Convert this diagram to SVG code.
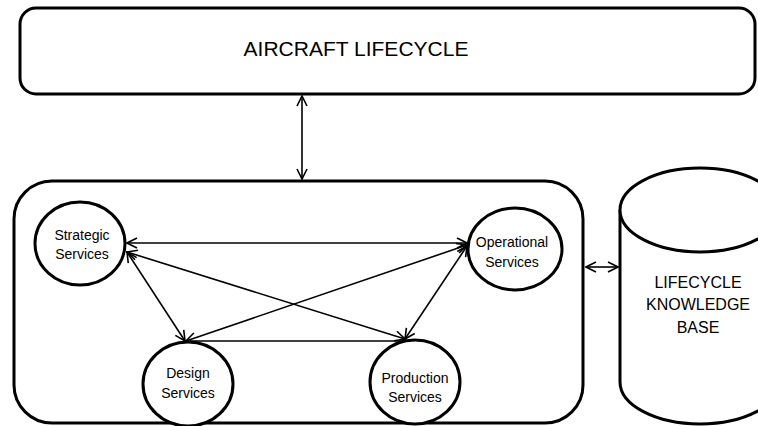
<svg xmlns="http://www.w3.org/2000/svg" width="758" height="426" viewBox="0 0 758 426">
  <style>
    .box { fill: #fff; stroke: #000; stroke-width: 3; }
    .svc { fill: #fff; stroke: #000; stroke-width: 3; }
    .lbl { font-family: "Liberation Sans", Arial, sans-serif; font-size: 14px; fill: #000; text-anchor: middle; }
    .big { font-family: "Liberation Sans", Arial, sans-serif; font-size: 16px; fill: #000; text-anchor: middle; }
    .link { fill: none; stroke: #000; stroke-width: 1.6; }
    .both { marker-start: url(#head); marker-end: url(#head); }
  </style>
  <defs>
    <marker id="head" viewBox="0 0 12 12" refX="11" refY="6" markerWidth="12" markerHeight="12" markerUnits="userSpaceOnUse" orient="auto-start-reverse">
      <path d="M1,1 L11,6 L1,11" fill="none" stroke="#000" stroke-width="1.6"/>
    </marker>
  </defs>

  <!-- top-level lifecycle box -->
  <g id="aircraft-lifecycle">
    <rect class="box" x="20" y="8" width="735" height="86" rx="16"/>
    <text class="big" x="356" y="56" style="font-size:21px">AIRCRAFT LIFECYCLE</text>
  </g>

  <!-- services container -->
  <g id="services">
    <rect class="box" x="14" y="181" width="569" height="242" rx="38"/>
  </g>

  <!-- knowledge base cylinder -->
  <g id="knowledge-base">
    <path class="box" d="M620,210 V382 A80,42 0 0 0 780,382 V210"/>
    <ellipse class="box" cx="700" cy="210" rx="80" ry="42"/>
    <text class="big" x="698" y="288">LIFECYCLE</text>
    <text class="big" x="698" y="310">KNOWLEDGE</text>
    <text class="big" x="698" y="333">BASE</text>
  </g>

  <g id="strategic">
    <ellipse class="svc" cx="80" cy="243.5" rx="45" ry="41.5"/>
    <text class="lbl" x="82" y="240">Strategic</text>
    <text class="lbl" x="82" y="259">Services</text>
  </g>

  <g id="operational">
    <ellipse class="svc" cx="515" cy="249" rx="47" ry="41"/>
    <text class="lbl" x="512" y="247">Operational</text>
    <text class="lbl" x="512" y="267">Services</text>
  </g>

  <g id="design">
    <ellipse class="svc" cx="188" cy="384" rx="45" ry="42"/>
    <text class="lbl" x="188" y="378">Design</text>
    <text class="lbl" x="188" y="398">Services</text>
  </g>

  <g id="production">
    <ellipse class="svc" cx="415" cy="382" rx="45" ry="42"/>
    <text class="lbl" x="415" y="383">Production</text>
    <text class="lbl" x="415" y="402">Services</text>
  </g>

  <!-- connectors -->
  <g id="connectors">
    <line class="link both" x1="302" y1="96" x2="302" y2="179"/>
    <line class="link both" x1="586" y1="267" x2="618" y2="267"/>
    <line class="link both" x1="127" y1="243" x2="467" y2="243"/>
    <line class="link both" x1="127" y1="252" x2="185" y2="341"/>
    <line class="link both" x1="127" y1="252" x2="405" y2="339"/>
    <line class="link both" x1="467" y1="245" x2="186" y2="341"/>
    <line class="link both" x1="467" y1="246" x2="405" y2="339"/>
    <line class="link" x1="190" y1="341" x2="403" y2="341"/>
  </g>
</svg>
